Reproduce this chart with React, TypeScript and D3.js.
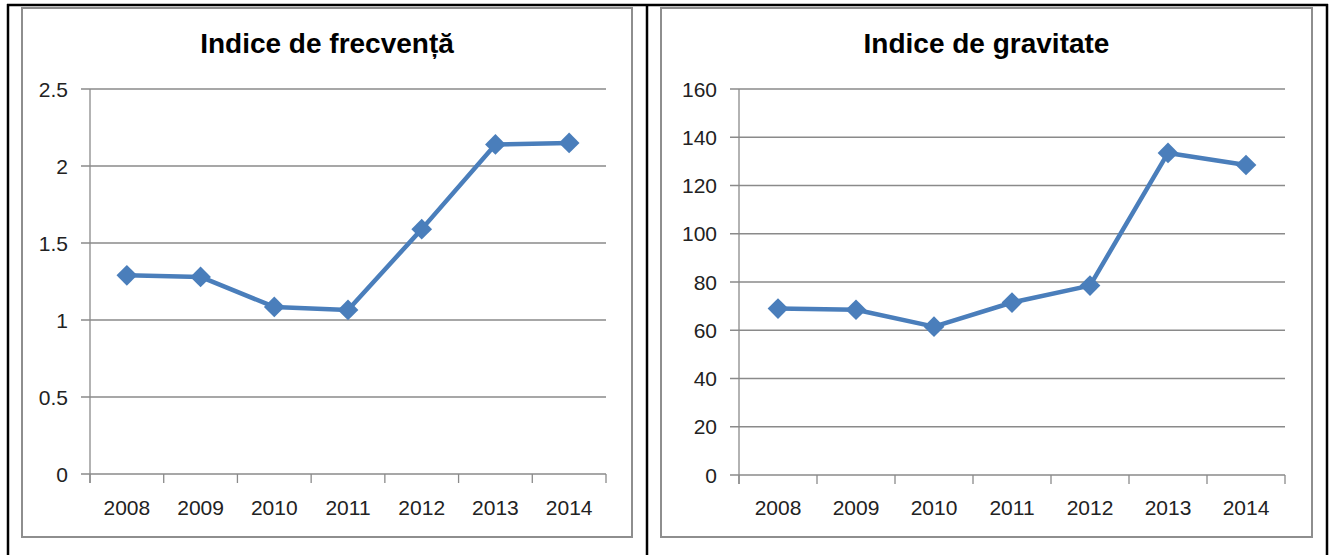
import * as d3 from 'd3';

const years = ['2008', '2009', '2010', '2011', '2012', '2013', '2014'];
const frecventa = [1.29, 1.28, 1.085, 1.065, 1.59, 2.14, 2.15];
const gravitate = [69, 68.5, 61.5, 71.5, 78.5, 133.5, 128.5];
const frecventaTicks = [0, 0.5, 1, 1.5, 2, 2.5];
const gravitateTicks = [0, 20, 40, 60, 80, 100, 120, 140, 160];

const LINE = '#4A7EBB';
const GRID = '#8a8a8a';
const FONT = '"Liberation Sans", Arial, sans-serif';

type PanelProps = {
  title: string;
  values: number[];
  ticks: number[];
  box: [number, number, number, number]; // x0, y0, x1, y1
  plot: [number, number, number, number]; // left, top, right, bottom
};

const Panel = ({ title, values, ticks, box, plot }: PanelProps) => {
  const [bx0, by0, bx1, by1] = box;
  const [left, top, right, bottom] = plot;

  const x = d3.scaleBand<string>().domain(years).range([left, right]).padding(0);
  const y = d3
    .scaleLinear()
    .domain([0, d3.max(ticks) as number])
    .range([bottom, top]);

  const cx = (i: number) => (x(years[i]) as number) + x.bandwidth() / 2;

  const line = d3
    .line<number>()
    .x((_, i) => cx(i))
    .y((d) => y(d));

  const marker = d3.symbol(d3.symbolSquare, 215)() as string;
  const boundaries = years.map((yr) => x(yr) as number).concat([right]);

  return (
    <g>
      <rect x={bx0} y={by0} width={bx1 - bx0} height={by1 - by0} fill="#fff" stroke="#8e8e8e" strokeWidth={2} />
      <text
        x={(bx0 + bx1) / 2}
        y={53}
        textAnchor="middle"
        fontFamily={FONT}
        fontWeight="bold"
        fontSize={28}
        fill="#000"
      >
        {title}
      </text>

      {/* grid + y ticks */}
      {ticks.map((t) => (
        <g key={t}>
          <line x1={left - 9} x2={right} y1={y(t)} y2={y(t)} stroke={GRID} strokeWidth={1.3} />
          <text
            x={left - 22}
            y={y(t)}
            dy="0.36em"
            textAnchor="end"
            fontFamily={FONT}
            fontSize={21}
            fill="#222"
          >
            {String(t)}
          </text>
        </g>
      ))}

      {/* y axis line */}
      <line x1={left} x2={left} y1={top} y2={bottom + 9} stroke={GRID} strokeWidth={1.3} />

      {/* category ticks */}
      {boundaries.map((bx, i) => (
        <line key={i} x1={bx} x2={bx} y1={bottom} y2={bottom + 9} stroke={GRID} strokeWidth={1.3} />
      ))}

      {years.map((yr, i) => (
        <text
          key={yr}
          x={cx(i)}
          y={515}
          textAnchor="middle"
          fontFamily={FONT}
          fontSize={21}
          fill="#222"
        >
          {yr}
        </text>
      ))}

      <path d={line(values) as string} fill="none" stroke={LINE} strokeWidth={4.5} strokeLinejoin="round" />
      {values.map((v, i) => (
        <path key={i} d={marker} fill={LINE} transform={`translate(${cx(i)},${y(v)}) rotate(45)`} />
      ))}
    </g>
  );
};

export default function App() {
  return (
    <svg
      width={1333}
      height={555}
      viewBox="0 0 1333 555"
      style={{ position: 'absolute', left: 0, top: 0, background: '#fff' }}
    >
      <rect x={0} y={0} width={1333} height={555} fill="#fff" />
      <Panel
        title="Indice de frecvență"
        values={frecventa}
        ticks={frecventaTicks}
        box={[22, 8, 632, 537]}
        plot={[90, 89, 606, 474]}
      />
      <Panel
        title="Indice de gravitate"
        values={gravitate}
        ticks={gravitateTicks}
        box={[661, 8, 1312, 537]}
        plot={[739, 89, 1285, 475]}
      />
      {/* table borders */}
      <line x1={7} x2={1328} y1={5} y2={5} stroke="#000" strokeWidth={2.5} />
      <line x1={8} x2={8} y1={4} y2={555} stroke="#000" strokeWidth={2.5} />
      <line x1={647} x2={647} y1={4} y2={555} stroke="#000" strokeWidth={2.5} />
      <line x1={1327} x2={1327} y1={4} y2={555} stroke="#000" strokeWidth={2.5} />
    </svg>
  );
}
